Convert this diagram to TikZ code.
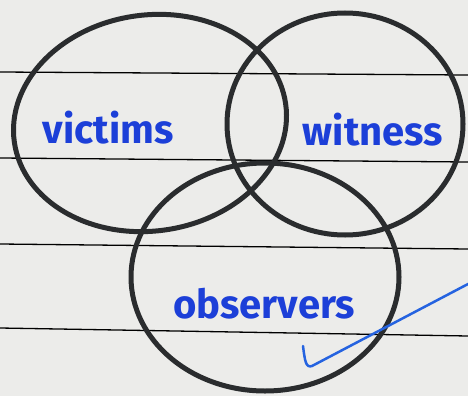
\documentclass[tikz,border=0pt]{standalone}
\usepackage{fontspec}
\setmainfont{Fira Sans}
\definecolor{paper}{HTML}{ECECEA}
\definecolor{ink}{HTML}{2A2C2E}
\definecolor{pen}{HTML}{1C3FD8}
\definecolor{tick}{HTML}{2563E0}
\begin{document}
\begin{tikzpicture}[x=1pt,y=-1pt,
  ruled/.style={black,line width=1.3pt},
  ring/.style={ink,line width=5pt},
  word/.style={pen,font=\fontsize{40}{40}\selectfont\bfseries,anchor=base,inner sep=0pt}]
\fill[paper] (0,0) rectangle (468,396);
\useasboundingbox (0,0) rectangle (468,396);
% ruled lines
\coordinate (l1a) at (0,72);  \coordinate (l1b) at (468,75);
\coordinate (l2a) at (0,158); \coordinate (l2b) at (468,162);
\coordinate (l3a) at (0,244); \coordinate (l3b) at (468,249);
\coordinate (l4a) at (0,328); \coordinate (l4b) at (468,336);
\draw[ruled] (l1a) -- (l1b);
\draw[ruled] (l2a) -- (l2b);
\draw[ruled] (l3a) -- (l3b);
\draw[ruled] (l4a) -- (l4b);
% circles
\draw[ring] (150,123) ellipse [x radius=137, y radius=108, rotate=8];
\draw[ring] (345,124) ellipse [x radius=118, y radius=111];
\draw[ring] (265,277) ellipse [x radius=134, y radius=114];
% labels
\node[word] (victims) at (108,143) {victims};
\node[word] (witness) at (373,145) {witness};
\node[word] (observers) at (264,318) {observers};
% tick
\coordinate (t1) at (303,346);
\coordinate (t2) at (312,366);
\coordinate (t3) at (468,284);
\draw[tick,line width=2.5pt,line cap=round] (t1) .. controls (305,362) and (306,368) .. (t2) -- (t3);
\end{tikzpicture}
\end{document}
